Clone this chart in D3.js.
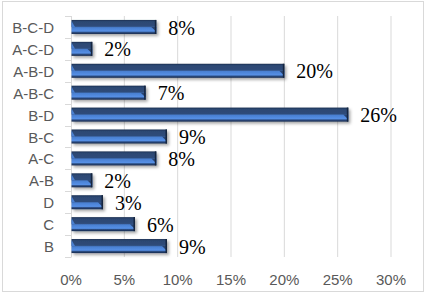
<!DOCTYPE html>
<html>
<head>
<meta charset="utf-8">
<script src="https://d3js.org/d3.v7.min.js"></script>
<style>
  body { margin: 0; background: #fff; }
</style>
</head>
<body>
<div id="chart"></div>
<script>
// data, top to bottom
const categories = ["B-C-D", "A-C-D", "A-B-D", "A-B-C", "B-D", "B-C", "A-C", "A-B", "D", "C", "B"];
const shares = [8, 2, 20, 7, 26, 9, 8, 2, 3, 6, 9];
const xTicks = [0, 5, 10, 15, 20, 25, 30];

const W = 427, H = 293;
const margin = { top: 16, right: 36, bottom: 36, left: 71 },
      width = W - margin.left - margin.right,
      height = H - margin.top - margin.bottom;

const root = d3.select("#chart").append("svg")
    .attr("width", W)
    .attr("height", H);

// outer frame
root.append("rect")
    .attr("x", 2.5).attr("y", 1.5)
    .attr("width", 421).attr("height", 290)
    .attr("fill", "#fff")
    .attr("stroke", "#d9d9d9");

const defs = root.append("defs");
const grad = defs.append("linearGradient")
    .attr("id", "barGrad")
    .attr("x1", 0).attr("y1", 0).attr("x2", 0).attr("y2", 1);
[[0, "#1b2f52"], [0.12, "#2c4772"], [0.45, "#2f4c7a"], [0.55, "#4a80d2"],
 [0.8, "#5690e6"], [0.88, "#2d4d82"], [1, "#16284a"]].forEach(s => {
    grad.append("stop").attr("offset", s[0]).attr("stop-color", s[1]);
});
const shadow = defs.append("filter").attr("id", "shadow")
    .attr("x", "-10%").attr("y", "-30%").attr("width", "130%").attr("height", "180%");
shadow.append("feDropShadow")
    .attr("dx", 2).attr("dy", 2).attr("stdDeviation", 1.5)
    .attr("flood-color", "#000").attr("flood-opacity", 0.35);

const svg = root.append("g")
    .attr("transform", `translate(${margin.left},${margin.top})`);

const x = d3.scaleLinear()
    .domain([0, 30])
    .range([0, width]);

const y = d3.scaleBand()
    .domain(categories)
    .range([0, height])
    .paddingInner(0.36)
    .paddingOuter(0.18);

// gridlines
svg.append("g")
    .selectAll("line")
    .data(xTicks.slice(1))
    .enter().append("line")
    .attr("x1", d => x(d)).attr("x2", d => x(d))
    .attr("y1", 0).attr("y2", height)
    .attr("stroke", "#d9d9d9");

// category axis (line + outside ticks at band edges)
const band = height / categories.length;
svg.append("line")
    .attr("x1", 0.5).attr("x2", 0.5)
    .attr("y1", 0).attr("y2", height)
    .attr("stroke", "#d9d9d9");
svg.append("g")
    .selectAll("line")
    .data(d3.range(categories.length + 1))
    .enter().append("line")
    .attr("x1", -6).attr("x2", 0.5)
    .attr("y1", i => Math.round(i * band) + 0.5)
    .attr("y2", i => Math.round(i * band) + 0.5)
    .attr("stroke", "#d9d9d9");

svg.append("g")
    .selectAll("text")
    .data(categories)
    .enter().append("text")
    .attr("x", -17)
    .attr("y", d => y(d) + y.bandwidth() / 2)
    .attr("dy", "0.4em")
    .attr("text-anchor", "end")
    .style("font-family", "Liberation Sans, Arial, sans-serif")
    .style("font-size", "15px")
    .attr("fill", "#595959")
    .text(d => d);

// value axis labels
svg.append("g")
    .selectAll("text")
    .data(xTicks)
    .enter().append("text")
    .attr("x", d => x(d))
    .attr("y", height + 28)
    .attr("text-anchor", "middle")
    .style("font-family", "Liberation Sans, Arial, sans-serif")
    .style("font-size", "15px")
    .attr("fill", "#595959")
    .text(d => d + "%");

// bars
const rows = categories.map((c, i) => ({ cat: c, val: shares[i] }));
const bars = svg.append("g")
    .selectAll("g")
    .data(rows)
    .enter().append("g")
    .attr("transform", d => `translate(0,${y(d.cat)})`);

const bh = y.bandwidth();
bars.append("rect")
    .attr("x", 0.5).attr("y", 0)
    .attr("width", d => x(d.val) - 0.5)
    .attr("height", bh)
    .attr("fill", "url(#barGrad)")
    .attr("filter", "url(#shadow)");

// left bevel highlight
bars.append("path")
    .attr("d", `M0.5,1 L4,${bh * 0.5} L0.5,${bh * 0.5} Z`)
    .attr("fill", "#4a80d2");

// right bevel end
bars.append("path")
    .attr("d", d => {
        const e = x(d.val);
        return `M${e - 5},${bh * 0.5} L${e},${bh * 0.85} L${e},${bh * 0.5} Z`;
    })
    .attr("fill", "#2a4470");
bars.append("rect")
    .attr("x", d => x(d.val) - 1.5).attr("y", 0)
    .attr("width", 1.5).attr("height", bh)
    .attr("fill", "#15253f");

// data labels
bars.append("text")
    .attr("x", d => x(d.val) + 12)
    .attr("y", bh / 2)
    .attr("dy", "0.38em")
    .style("font-family", "Liberation Serif, Times New Roman, serif")
    .style("font-size", "20px")
    .attr("fill", "#000")
    .text(d => d.val + "%");
</script>
</body>
</html>
